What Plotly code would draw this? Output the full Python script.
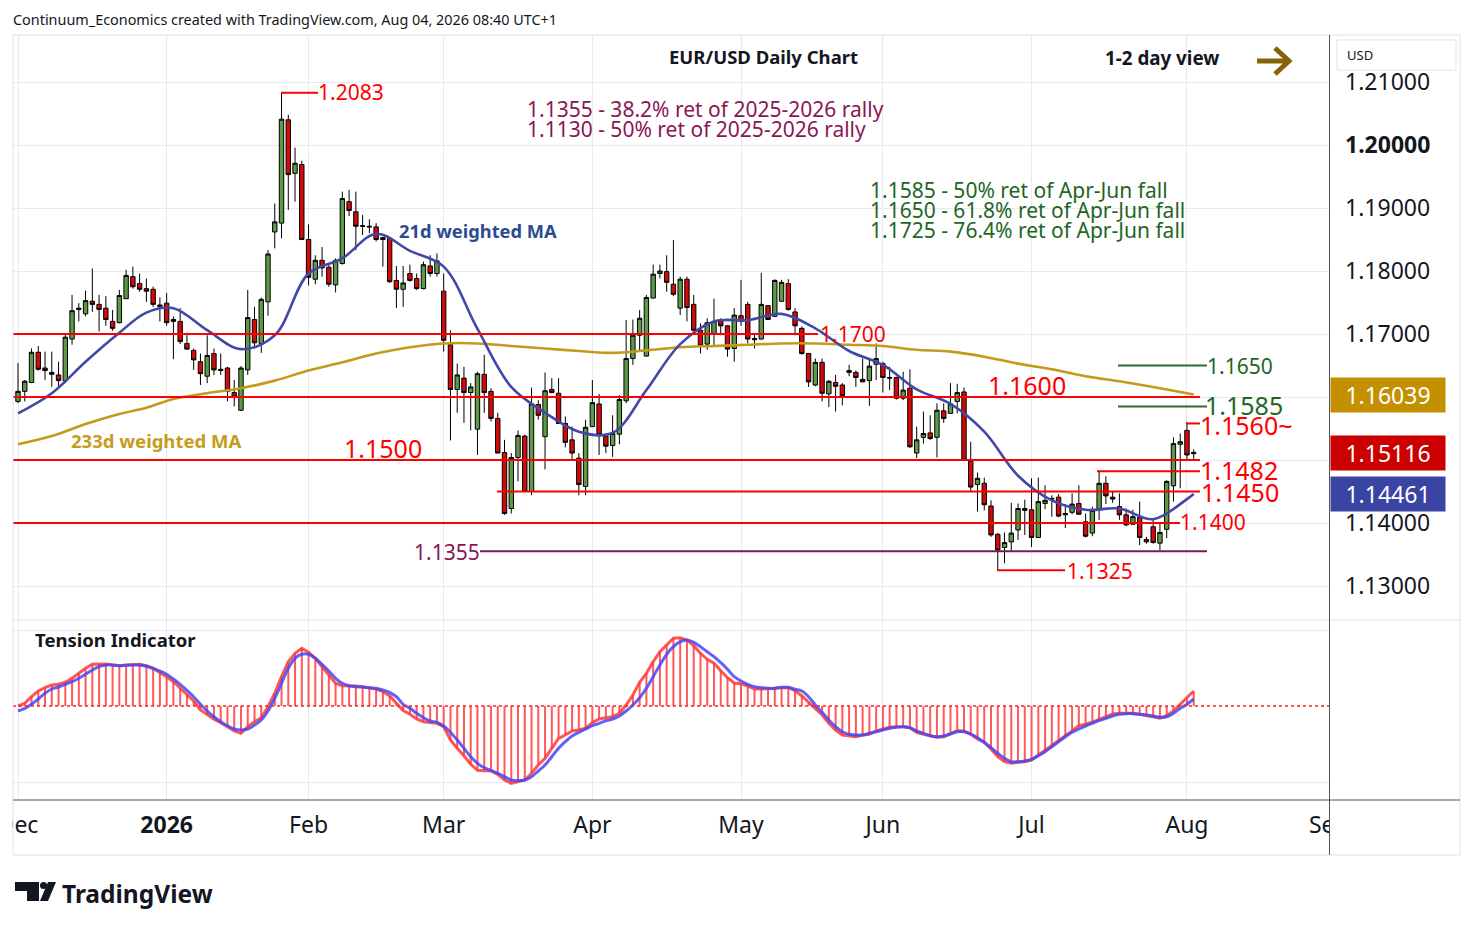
import pandas as pd
import plotly.graph_objects as go
from plotly.subplots import make_subplots

# trading days shown (weekdays, no bars on 25 Dec / 1 Jan)
days = pd.bdate_range("2025-12-01", "2026-08-04")
days = days[~days.isin(pd.to_datetime(["2025-12-25", "2026-01-01"]))]
dates = [d.strftime("%Y-%m-%d 12:00") for d in days]

# EUR/USD daily OHLC (Dec .. Aug)
open_ = [
    1.1593, 1.1609, 1.1623, 1.1671, 1.1646, 1.1639, 1.1635, 1.1626, 1.1692, 1.1741, 1.1732, 1.1752, 1.1747, 1.1741, 1.1720, 1.1718, 1.1756, 1.1791, 1.1780, 1.1772, 1.1771, 1.1746,
    1.1749, 1.1723, 1.1720, 1.1685, 1.1674, 1.1656, 1.1633, 1.1669, 1.1644, 1.1646, 1.1607, 1.1579, 1.1643, 1.1723, 1.1685, 1.1751, 1.1862, 1.1876, 1.2040, 1.1955, 1.1969,
    1.1850, 1.1787, 1.1817, 1.1806, 1.1778, 1.1812, 1.1910, 1.1894, 1.1872, 1.1871, 1.1870, 1.1850, 1.1852, 1.1785, 1.1771, 1.1796, 1.1788, 1.1772, 1.1808, 1.1796,
    1.1768, 1.1683, 1.1612, 1.1630, 1.1607, 1.1549, 1.1636, 1.1609, 1.1566, 1.1512, 1.1423, 1.1504, 1.1538, 1.1450, 1.1588, 1.1537, 1.1612, 1.1606, 1.1558, 1.1532, 1.1503, 1.1458,
    1.1553, 1.1589, 1.1538, 1.1523, 1.1541, 1.1594, 1.1661, 1.1698, 1.1665, 1.1757, 1.1796, 1.1799, 1.1779, 1.1741, 1.1787, 1.1747, 1.1706, 1.1684, 1.1701, 1.1721, 1.1713, 1.1677,
    1.1729, 1.1747, 1.1693, 1.1692, 1.1745, 1.1728, 1.1752, 1.1780, 1.1735, 1.1709, 1.1669, 1.1619, 1.1655, 1.1605, 1.1623, 1.1619, 1.1639, 1.1639, 1.1628, 1.1626, 1.1652,
    1.1653, 1.1631, 1.1631, 1.1598, 1.1614, 1.1511, 1.1536, 1.1543, 1.1536, 1.1578, 1.1574, 1.1593, 1.1608, 1.1498, 1.1461, 1.1463, 1.1427, 1.1382, 1.1361, 1.1370, 1.1389, 1.1423,
    1.1421, 1.1377, 1.1431, 1.1439, 1.1441, 1.1413, 1.1417, 1.1431, 1.1402, 1.1384, 1.1422, 1.1463, 1.1441, 1.1426, 1.1413, 1.1398, 1.1409, 1.1374, 1.1394, 1.1368, 1.1390, 1.1459, 1.1525,
    1.1547, 1.1510,
]
high = [
    1.1654, 1.1627, 1.1677, 1.1681, 1.1672, 1.1672, 1.1656, 1.1699, 1.1762, 1.1749, 1.1769, 1.1804, 1.1762, 1.1760, 1.1738, 1.1770, 1.1802, 1.1807, 1.1796, 1.1788, 1.1775, 1.1758,
    1.1765, 1.1728, 1.1741, 1.1702, 1.1677, 1.1669, 1.1698, 1.1677, 1.1669, 1.1648, 1.1627, 1.1649, 1.1770, 1.1743, 1.1758, 1.1833, 1.1907, 1.2083, 1.2048, 1.1996, 1.1975,
    1.1874, 1.1825, 1.1838, 1.1810, 1.1820, 1.1926, 1.1929, 1.1926, 1.1889, 1.1882, 1.1876, 1.1854, 1.1854, 1.1808, 1.1808, 1.1810, 1.1796, 1.1815, 1.1825, 1.1828,
    1.1796, 1.1706, 1.1653, 1.1648, 1.1622, 1.1640, 1.1667, 1.1614, 1.1575, 1.1532, 1.1511, 1.1547, 1.1540, 1.1615, 1.1595, 1.1639, 1.1630, 1.1630, 1.1569, 1.1553, 1.1511, 1.1564,
    1.1627, 1.1605, 1.1542, 1.1571, 1.1603, 1.1722, 1.1723, 1.1738, 1.1762, 1.1810, 1.1810, 1.1825, 1.1849, 1.1791, 1.1791, 1.1762, 1.1717, 1.1725, 1.1756, 1.1725, 1.1714, 1.1741,
    1.1786, 1.1751, 1.1701, 1.1797, 1.1746, 1.1787, 1.1786, 1.1787, 1.1741, 1.1712, 1.1670, 1.1661, 1.1661, 1.1627, 1.1635, 1.1622, 1.1651, 1.1642, 1.1661, 1.1661, 1.1685,
    1.1656, 1.1648, 1.1632, 1.1640, 1.1644, 1.1553, 1.1577, 1.1571, 1.1590, 1.1590, 1.1622, 1.1621, 1.1615, 1.1529, 1.1480, 1.1472, 1.1436, 1.1384, 1.1385, 1.1432, 1.1431, 1.1437,
    1.1471, 1.1472, 1.1460, 1.1444, 1.1446, 1.1430, 1.1447, 1.1460, 1.1415, 1.1426, 1.1483, 1.1474, 1.1451, 1.1447, 1.1423, 1.1421, 1.1434, 1.1378, 1.1405, 1.1399, 1.1468, 1.1536, 1.1542,
    1.1560, 1.1517,
]
low = [
    1.1590, 1.1593, 1.1622, 1.1642, 1.1627, 1.1616, 1.1614, 1.1622, 1.1683, 1.1720, 1.1728, 1.1735, 1.1704, 1.1713, 1.1705, 1.1717, 1.1756, 1.1772, 1.1767, 1.1751, 1.1743, 1.1720,
    1.1713, 1.1660, 1.1684, 1.1675, 1.1643, 1.1619, 1.1622, 1.1635, 1.1635, 1.1593, 1.1585, 1.1578, 1.1635, 1.1677, 1.1670, 1.1729, 1.1836, 1.1852, 1.1897, 1.1910, 1.1849,
    1.1777, 1.1779, 1.1791, 1.1775, 1.1766, 1.1810, 1.1887, 1.1833, 1.1857, 1.1860, 1.1847, 1.1807, 1.1781, 1.1741, 1.1743, 1.1783, 1.1770, 1.1771, 1.1791, 1.1791,
    1.1672, 1.1531, 1.1575, 1.1559, 1.1547, 1.1508, 1.1575, 1.1561, 1.1511, 1.1413, 1.1415, 1.1466, 1.1450, 1.1444, 1.1564, 1.1485, 1.1606, 1.1557, 1.1520, 1.1501, 1.1444, 1.1444,
    1.1553, 1.1508, 1.1511, 1.1505, 1.1525, 1.1590, 1.1651, 1.1672, 1.1664, 1.1757, 1.1788, 1.1767, 1.1760, 1.1730, 1.1720, 1.1704, 1.1669, 1.1675, 1.1680, 1.1698, 1.1664, 1.1656,
    1.1713, 1.1685, 1.1677, 1.1691, 1.1722, 1.1727, 1.1751, 1.1737, 1.1698, 1.1667, 1.1616, 1.1617, 1.1593, 1.1584, 1.1577, 1.1587, 1.1633, 1.1616, 1.1624, 1.1586, 1.1627,
    1.1607, 1.1611, 1.1596, 1.1595, 1.1519, 1.1503, 1.1526, 1.1532, 1.1504, 1.1559, 1.1573, 1.1574, 1.1500, 1.1451, 1.1418, 1.1420, 1.1378, 1.1325, 1.1336, 1.1356, 1.1373, 1.1381,
    1.1362, 1.1376, 1.1422, 1.1410, 1.1409, 1.1392, 1.1414, 1.1413, 1.1377, 1.1379, 1.1405, 1.1430, 1.1432, 1.1405, 1.1395, 1.1397, 1.1365, 1.1367, 1.1367, 1.1357, 1.1376, 1.1434, 1.1455,
    1.1501, 1.1501,
]
close = [
    1.1609, 1.1625, 1.1671, 1.1644, 1.1642, 1.1636, 1.1626, 1.1695, 1.1737, 1.1739, 1.1753, 1.1747, 1.1739, 1.1723, 1.1709, 1.1761, 1.1793, 1.1775, 1.1771, 1.1768, 1.1747, 1.1744,
    1.1718, 1.1720, 1.1688, 1.1676, 1.1659, 1.1637, 1.1666, 1.1643, 1.1642, 1.1609, 1.1600, 1.1646, 1.1726, 1.1686, 1.1755, 1.1827, 1.1878, 1.2041, 1.1953, 1.1971, 1.1850,
    1.1790, 1.1817, 1.1805, 1.1779, 1.1817, 1.1915, 1.1896, 1.1871, 1.1871, 1.1870, 1.1850, 1.1853, 1.1783, 1.1771, 1.1781, 1.1785, 1.1772, 1.1810, 1.1796, 1.1816,
    1.1690, 1.1612, 1.1635, 1.1607, 1.1616, 1.1637, 1.1607, 1.1566, 1.1511, 1.1415, 1.1504, 1.1539, 1.1450, 1.1589, 1.1571, 1.1610, 1.1607, 1.1558, 1.1528, 1.1511, 1.1461, 1.1552,
    1.1591, 1.1540, 1.1522, 1.1542, 1.1596, 1.1661, 1.1698, 1.1725, 1.1758, 1.1795, 1.1800, 1.1782, 1.1763, 1.1787, 1.1742, 1.1706, 1.1681, 1.1718, 1.1720, 1.1713, 1.1676, 1.1730,
    1.1720, 1.1692, 1.1691, 1.1747, 1.1723, 1.1785, 1.1782, 1.1739, 1.1713, 1.1669, 1.1624, 1.1655, 1.1606, 1.1625, 1.1617, 1.1602, 1.1642, 1.1631, 1.1624, 1.1649, 1.1661,
    1.1631, 1.1630, 1.1598, 1.1611, 1.1521, 1.1532, 1.1542, 1.1534, 1.1579, 1.1566, 1.1589, 1.1607, 1.1501, 1.1457, 1.1471, 1.1429, 1.1381, 1.1357, 1.1369, 1.1384, 1.1423, 1.1420,
    1.1377, 1.1434, 1.1436, 1.1438, 1.1411, 1.1415, 1.1430, 1.1414, 1.1379, 1.1420, 1.1463, 1.1443, 1.1438, 1.1413, 1.1397, 1.1410, 1.1377, 1.1370, 1.1369, 1.1385, 1.1466, 1.1526, 1.1529,
    1.1508, 1.1512,
]

# weighted moving averages
ma_dates = [
    "2025-12-01", "2025-12-08", "2025-12-15", "2025-12-22", "2025-12-29", "2026-01-05", "2026-01-12",
    "2026-01-19", "2026-01-26", "2026-02-02", "2026-02-09", "2026-02-16", "2026-02-23", "2026-03-02",
    "2026-03-09", "2026-03-16", "2026-03-23", "2026-03-30", "2026-04-06", "2026-04-13", "2026-04-20",
    "2026-04-27", "2026-05-04", "2026-05-11", "2026-05-18", "2026-05-25", "2026-06-01", "2026-06-08",
    "2026-06-15", "2026-06-22", "2026-06-29", "2026-07-06", "2026-07-13", "2026-07-20", "2026-07-27",
    "2026-08-03", "2026-08-04",
]
ma21 = [
    1.1574, 1.1606, 1.1656, 1.1702, 1.1734, 1.1741, 1.1706, 1.1676, 1.1698, 1.1796, 1.1820, 1.1859, 1.1832,
    1.1807, 1.1708, 1.1616, 1.1575, 1.1545, 1.1543, 1.1611, 1.1684, 1.1720, 1.1722, 1.1732, 1.1709, 1.1673,
    1.1651, 1.1612, 1.1589, 1.1545, 1.1475, 1.1436, 1.1421, 1.1423, 1.1406, 1.1438, 1.1446,
]
ma233 = [
    1.1525, 1.1538, 1.1557, 1.1573, 1.1583, 1.1597, 1.1606, 1.1614, 1.1626, 1.1642, 1.1655, 1.1669, 1.1679,
    1.1685, 1.1685, 1.1681, 1.1677, 1.1673, 1.1670, 1.1674, 1.1679, 1.1681, 1.1683, 1.1685, 1.1685, 1.1683,
    1.1681, 1.1675, 1.1672, 1.1664, 1.1653, 1.1644, 1.1633, 1.1625, 1.1616, 1.1606, 1.1604,
]

# tension indicator (red = oscillator, blue = signal), per bar
tension = [
    0, 2.7, 9.3, 15, 18.3, 21, 21.7, 23.7, 27.7, 32.7, 37.7, 41.7, 42, 42, 41, 40.3, 41, 41.7, 41.7, 40.3, 37.7, 33.3,
    29.3, 24.3, 17.7, 11, 5, -4, -9, -13.3, -16.7, -21.3, -25, -27.3, -20.7, -15.7, -11.7, -0.7, 12.7, 29.3, 44.3, 52.7, 57.7,
    53.7, 47.7, 39.3, 31, 22.7, 20.3, 20.3, 20, 19.3, 18.3, 17, 14.3, 10.3, 2.7, -4.5, -8.3, -13, -15.7, -16.7, -17.3,
    -20.7, -34, -42.3, -49.7, -58.3, -64.3, -64.7, -65, -68.3, -74, -77.3, -75.7, -74, -67.3, -59, -52.3, -42.3, -32.3, -29, -25, -24, -22.3,
    -16.7, -13, -11.7, -10.7, -7.3, 1, 11, 23.7, 32.7, 44.3, 54.3, 61, 67.7, 68.3, 66, 60.3, 52.7, 46.7, 42.7, 35.3, 28.3, 23,
    22.3, 20, 17, 17, 17, 17.7, 18.3, 18.3, 15.3, 10.3, 3.7, -2.3, -9, -17.3, -24, -29, -30, -30.7, -29, -28.3, -25,
    -23, -21.3, -20.7, -20.7, -21.7, -26.3, -28.3, -30, -31.3, -30.7, -27.3, -24.7, -25, -28.3, -33, -36.3, -43, -50.7, -55.7, -57.3, -56.3, -55.7,
    -54, -49, -44, -39, -34, -29.7, -25, -19.7, -18.3, -16.3, -13.3, -10.7, -8, -7.3, -7.3, -7.3, -8.3, -9.7, -10.7, -12.3, -9.7, -5, 1.7,
    8.3, 15,
]
tension_signal = [
    -5, -2.3, 1.7, 7, 12.7, 17, 19, 21.7, 24.3, 27.7, 31.7, 36, 39.3, 41, 41, 40.3, 40.7, 41, 41, 39.7, 37.7, 35,
    31.7, 27, 21.7, 15.7, 9.3, 1.7, -5, -10.7, -15.7, -19.7, -23, -24, -23, -19, -14, -5, 7.7, 22.7, 37.7, 47.7, 51.7,
    51.7, 47.7, 41.7, 35, 27.7, 22.7, 20.3, 19.3, 19, 18.3, 17.7, 16, 13.7, 9.3, 1.7, -2.3, -7.3, -11.7, -15, -16.3,
    -20, -26.3, -34, -42.3, -50.7, -57.3, -61.7, -64.3, -67.3, -70.7, -74, -74.7, -74, -70.7, -65, -59, -50.7, -42.3, -35.7, -30, -26.3, -23,
    -19.7, -17.3, -14.7, -13, -10, -5, 1, 8.3, 17.7, 29.3, 41, 51.7, 59.3, 64.3, 66, 63.7, 59.3, 54.3, 49.3, 43.3, 36.7, 29.3,
    25, 21.7, 19.3, 18.3, 17.7, 17.7, 18.7, 18.7, 16.7, 15, 9.3, 1, -6.3, -14, -20.7, -25.7, -28.3, -29, -29, -27.3, -25.7,
    -24, -22.3, -21.3, -20.7, -21.7, -25, -27.3, -29.7, -30.7, -30, -28, -25.7, -25.7, -28, -31.7, -36.3, -41.7, -47.3, -52.3, -55.7, -55.7, -55,
    -53.3, -49.7, -45.7, -40.7, -35.7, -30.7, -26.3, -23, -20, -17.3, -14.7, -12.3, -10, -8.3, -7.7, -7.7, -8.3, -9, -10, -11.3, -10.7, -7.3, -2.3,
    1.7, 7,
]

price_ticks = [1.13, 1.14, 1.15, 1.16, 1.17, 1.18, 1.19, 1.20, 1.21]
month_ticks = ["2025-12-01", "2026-01-02", "2026-02-02", "2026-03-02", "2026-04-01",
               "2026-05-01", "2026-06-01", "2026-07-01", "2026-08-03", "2026-09-01"]
month_labels = ["Dec", "<b>2026</b>", "Feb", "Mar", "Apr", "May", "Jun", "Jul", "Aug", "Sep"]

last_close = 1.15116
last_ma21 = 1.14461
last_ma233 = 1.16039

n = len(dates)
assert all(len(s) == n for s in (open_, high, low, close, tension, tension_signal)), n

FONT = "Noto Sans"
INK = "#131722"
GRID = "#e6ebf1"
RED = "#ff0000"
PURPLE = "#8a1654"
GREEN = "#1e6623"
BLUE_TXT = "#2d4b8e"
GOLD = "#c59c22"


# page pixel -> paper coordinates (plot area 13..1329 x 35..800)
def X(px):
    return (px - 13) / 1316


def Y(py):
    return (800 - py) / 765


fig = make_subplots(rows=2, cols=1, shared_xaxes=True, vertical_spacing=0,
                    row_heights=[585 / 765, 180 / 765])

fig.add_trace(go.Candlestick(
    x=dates, open=open_, high=high, low=low, close=close,
    increasing=dict(fillcolor="#5c9a45", line=dict(color="#000000", width=1)),
    decreasing=dict(fillcolor="#d40a0a", line=dict(color="#000000", width=1)),
    whiskerwidth=0, showlegend=False, hoverinfo="skip"), row=1, col=1)

ma_x = [d + " 12:00" for d in ma_dates]
fig.add_trace(go.Scatter(x=ma_x, y=ma233, mode="lines", line=dict(color="#c49a1c", width=2.6, shape="spline"),
                         showlegend=False, hoverinfo="skip"), row=1, col=1)
fig.add_trace(go.Scatter(x=ma_x, y=ma21, mode="lines", line=dict(color="#4149a8", width=2.6, shape="spline"),
                         showlegend=False, hoverinfo="skip"), row=1, col=1)

# tension histogram: thin vertical lines from zero
hx, hy = [], []
for d, v in zip(dates, tension):
    hx += [d, d, None]
    hy += [0, v, None]
fig.add_trace(go.Scatter(x=hx, y=hy, mode="lines", line=dict(color="rgba(255,60,60,0.85)", width=2),
                         showlegend=False, hoverinfo="skip"), row=2, col=1)
fig.add_trace(go.Scatter(x=dates, y=tension, mode="lines", line=dict(color="rgba(255,55,55,0.85)", width=3),
                         showlegend=False, hoverinfo="skip"), row=2, col=1)
fig.add_trace(go.Scatter(x=dates, y=tension_signal, mode="lines", line=dict(color="rgba(70,70,245,0.85)", width=3, shape="spline"),
                         showlegend=False, hoverinfo="skip"), row=2, col=1)

fig.update_xaxes(type="date", range=["2025-11-28 18:14", "2026-09-01 12:30"],
                 rangebreaks=[dict(bounds=["sat", "mon"]), dict(values=["2025-12-25", "2026-01-01"])],
                 tickvals=[d + " 12:00" for d in month_ticks], ticktext=month_labels,
                 showgrid=True, gridcolor=GRID, gridwidth=1, showline=False, zeroline=False,
                 ticks="", rangeslider_visible=False, automargin=False)
fig.update_xaxes(showticklabels=False, row=1, col=1)
fig.update_xaxes(showticklabels=True, tickfont=dict(family=FONT, size=23, color=INK),
                 ticklabelstandoff=9, ticklabeloverflow="allow", row=2, col=1)

fig.update_yaxes(row=1, col=1, side="right", range=[1.2 - 475 / 6300, 1.2 + 110 / 6300],
                 tickvals=price_ticks,
                 ticktext=["<b>%.5f</b>" % t if abs(t - 1.2) < 1e-9 else "%.5f" % t for t in price_ticks],
                 tickfont=dict(family=FONT, size=23, color=INK), ticklabelstandoff=15,
                 showgrid=True, gridcolor=GRID, zeroline=False, showline=False, ticks="", automargin=False)
fig.update_yaxes(row=2, col=1, side="right", range=[-94, 86], tickvals=[-76, 76], showticklabels=False,
                 showgrid=True, gridcolor=GRID, zeroline=False, showline=False, ticks="", automargin=False)

shapes = []


def hline(level, px0, px1, color, width=2):
    shapes.append(dict(type="line", xref="paper", yref="y", x0=X(px0), x1=X(px1), y0=level, y1=level,
                       line=dict(color=color, width=width), layer="above"))


hline(1.1700, 13, 818, RED)
hline(1.1600, 13, 1200, RED)
hline(1.1500, 13, 1200, RED)
hline(1.1482, 1097, 1200, RED)
hline(1.1450, 497, 1200, RED)
hline(1.1400, 13, 1180, RED)
hline(1.1355, 480, 1207, "#7b1a52")
hline(1.1325, 997, 1065, RED)
hline(1.2083, 281, 318, RED)
hline(1.1558, 1186, 1200, RED)
hline(1.1650, 1118, 1207, "#2e6b30")
hline(1.1585, 1118, 1207, "#2e6b30")

# zero line of the tension pane
shapes.append(dict(type="line", xref="paper", yref="y2", x0=0, x1=1, y0=0, y1=0,
                   line=dict(color="#ff2020", width=1.5, dash="dot"), layer="above"))


def prect(px0, py0, px1, py1, fill=None, line=None, lw=1):
    shapes.append(dict(type="rect", xref="paper", yref="paper", x0=X(px0), x1=X(px1), y0=Y(py1), y1=Y(py0),
                       fillcolor=fill if fill else "rgba(0,0,0,0)",
                       line=dict(color=line if line else "rgba(0,0,0,0)", width=lw), layer="above"))


def pline(px0, py0, px1, py1, color, width=1):
    shapes.append(dict(type="line", xref="paper", yref="paper", x0=X(px0), x1=X(px1), y0=Y(py0), y1=Y(py1),
                       line=dict(color=color, width=width), layer="above"))


# masks that clip the axis labels at the chart edges
prect(-10, 801, 12.5, 853, fill="white")
prect(1330, 801, 1459.5, 853, fill="white")
# chart frame and pane separators
prect(13, 35, 1460, 855, line="#e0e3eb")
pline(13, 620, 1460, 620, "#e0e3eb")
pline(13, 800, 1460, 800, "#50535e")
pline(1329.5, 35, 1329.5, 855, "#50535e")
# currency box
prect(1337, 40, 1456, 70, fill="white", line="#e0e3eb")
# direction arrow
pline(1257, 61, 1286, 61, "#876209", 5)
shapes.append(dict(type="path", xref="paper", yref="paper", layer="above",
                   path="M %f %f L %f %f L %f %f" % (X(1275), Y(48), X(1289), Y(61), X(1275), Y(74)),
                   line=dict(color="#876209", width=5)))
# TradingView logo
shapes.append(dict(type="path", xref="paper", yref="paper", layer="above", fillcolor=INK, line=dict(width=0),
                   path="M %f %f L %f %f L %f %f L %f %f L %f %f L %f %f Z" % (
                       X(15), Y(882), X(39), Y(882), X(39), Y(901), X(27), Y(901), X(27), Y(891), X(15), Y(891))))
shapes.append(dict(type="circle", xref="paper", yref="paper", layer="above", fillcolor=INK, line=dict(width=0),
                   x0=X(40), x1=X(47), y0=Y(889), y1=Y(882)))
shapes.append(dict(type="path", xref="paper", yref="paper", layer="above", fillcolor=INK, line=dict(width=0),
                   path="M %f %f L %f %f L %f %f L %f %f Z" % (
                       X(48), Y(882), X(56), Y(882), X(48), Y(901), X(40), Y(901))))

fig.update_layout(shapes=shapes)


def note(text, px, py, color, size, xanchor="left", bold=False):
    if bold:
        text = "<b>" + text + "</b>"
    fig.add_annotation(text=text, x=X(px), y=Y(py), xref="paper", yref="paper", xanchor=xanchor,
                       yanchor="middle", showarrow=False, font=dict(family=FONT, size=size, color=color))


note("Continuum_Economics created with TradingView.com, Aug 04, 2026 08:40 UTC+1", 11, 19, INK, 14.4)
note("EUR/USD Daily Chart", 763, 56, INK, 18.5, "center", True)
note("1-2 day view", 1162, 58, INK, 18.8, "center", True)
note("1.1355 - 38.2% ret of 2025-2026 rally", 525, 109, PURPLE, 21)
note("1.1130 - 50% ret of 2025-2026 rally", 525, 129, PURPLE, 21)
note("1.1585 - 50% ret of Apr-Jun fall", 868, 190, GREEN, 21)
note("1.1650 - 61.8% ret of Apr-Jun fall", 868, 210, GREEN, 21)
note("1.1725 - 76.4% ret of Apr-Jun fall", 868, 230, GREEN, 21)
note("21d weighted MA", 397, 231, BLUE_TXT, 18.3, bold=True)
note("233d weighted MA", 69, 440, GOLD, 18.5, bold=True)
note("1.2083", 316, 92, RED, 21)
note("1.1700", 818, 334, RED, 21)
note("1.1650", 1205, 366, GREEN, 21)
note("1.1600", 1027, 385, RED, 25, "center")
note("1.1585", 1203, 405, GREEN, 25)
note("1.1560~", 1198, 425, RED, 25)
note("1.1500", 383, 448, RED, 25, "center")
note("1.1482", 1198, 470, RED, 25)
note("1.1450", 1199, 492, RED, 25)
note("1.1400", 1178, 522, RED, 21)
note("1.1355", 482, 552, PURPLE, 21, "right")
note("1.1325", 1065, 571, RED, 21)
note("Tension Indicator", 33, 639, INK, 18.5, bold=True)
note("USD", 1345, 55, INK, 13)
note("TradingView", 60, 893, INK, 24.5, bold=True)

# last-value tags on the price scale
for val, col in [(last_ma233, "#c49000"), (last_close, "#cc0000"), (last_ma21, "#3a44a3")]:
    fig.add_annotation(text="%.5f" % val, x=X(1330), y=val, xref="paper", yref="y", xanchor="left",
                       yanchor="middle", showarrow=False, bgcolor=col, width=110, height=30, borderpad=2,
                       align="center", font=dict(family=FONT, size=23, color="white"))

fig.update_layout(
    width=1466, height=922,
    margin=dict(l=5, r=145, t=27, b=130, autoexpand=False),
    paper_bgcolor="white", plot_bgcolor="white",
    font=dict(family=FONT, color=INK),
    boxgap=0.35, boxgroupgap=0,
    hovermode=False, showlegend=False,
)

fig.write_html("out.html")
